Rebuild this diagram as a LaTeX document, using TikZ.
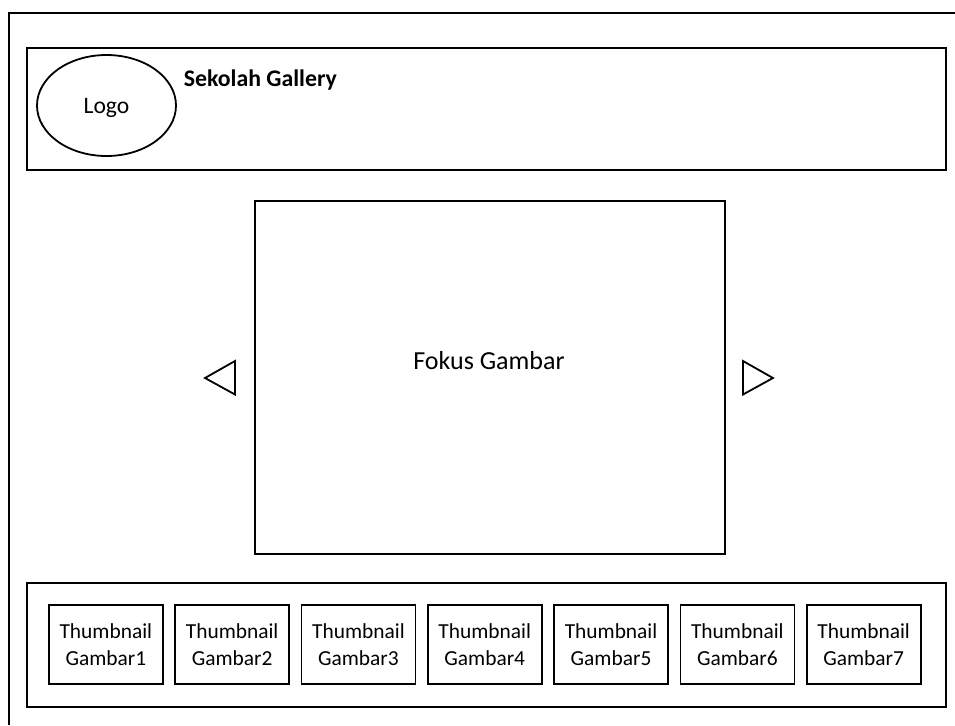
\documentclass[tikz,border=0pt]{standalone}
\usepackage{fontspec}
\setmainfont{Carlito}
\usetikzlibrary{shapes.geometric}

\tikzset{
  frame/.style={draw=black, line width=1pt, rectangle, inner sep=0pt, anchor=north west},
  thumb/.style={draw=black, line width=0.85pt, rectangle, inner sep=0pt, anchor=north west,
    minimum width=57pt, minimum height=39.5pt, align=center,
    font=\fontsize{10.7}{13.4}\selectfont},
  arrowtri/.style={draw=black, line width=0.9pt, line join=miter},
}

\begin{document}
\begin{tikzpicture}[x=0.5pt, y=-0.5pt]
  \useasboundingbox (0,0) rectangle (955,725);

  % page frame (right and bottom edges fall outside the page)
  \coordinate (pageTL) at (9,13);
  \coordinate (pageTR) at (955,13);
  \coordinate (pageBL) at (9,725);
  \draw[line width=1pt] (pageTR) -- (pageTL) -- (pageBL);

  % header bar
  \node[frame, minimum width=459.5pt, minimum height=61pt] (header) at (26,47) {};
  \node[draw=black, line width=0.9pt, ellipse, inner sep=0pt,
        minimum width=69.5pt, minimum height=50.5pt] (logo) at (106.5,105.5) {};
  \node[anchor=base, inner sep=0pt, font=\fontsize{11.8}{14}\selectfont]
        (logolabel) at (106.5,113) {Logo};
  \node[anchor=base west, inner sep=0pt, font=\fontsize{11.9}{14}\selectfont\bfseries]
        (title) at (183.5,86) {Sekolah Gallery};

  % main image area
  \node[frame, minimum width=235pt, minimum height=176.5pt] (focus) at (253.5,200) {};
  \node[anchor=base, inner sep=0pt, font=\fontsize{13}{16}\selectfont]
        (focuslabel) at (489,369) {Fokus Gambar};

  % previous / next arrows
  \draw[arrowtri] (235,361) -- (205,378) -- (235,394.5) -- cycle;
  \draw[arrowtri] (743,361) -- (773,378) -- (743,394.5) -- cycle;

  % thumbnail strip
  \node[frame, minimum width=459.5pt, minimum height=62pt] (strip) at (26,582) {};
  \foreach \i in {1,...,7} {
    \node[thumb] (thumb\i) at ({48 + 126.3*(\i-1)},604) {Thumbnail\\Gambar\i};
  }
\end{tikzpicture}
\end{document}
